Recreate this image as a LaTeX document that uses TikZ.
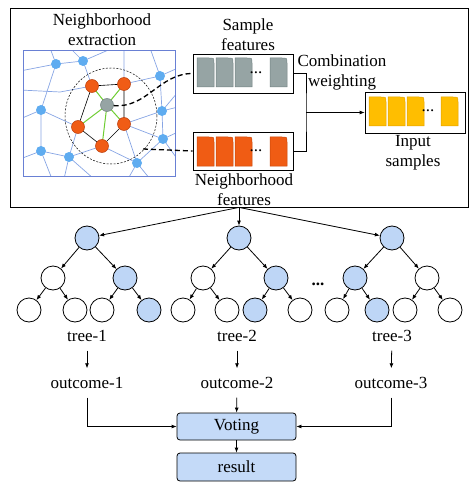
\documentclass[tikz,border=0pt]{standalone}
\usepackage{fontspec}
\setmainfont{Liberation Serif}
\usetikzlibrary{arrows.meta}

\definecolor{netline}{RGB}{135,165,228}
\definecolor{netframe}{RGB}{105,128,212}
\definecolor{dotblue}{RGB}{95,172,240}
\definecolor{orangefill}{RGB}{240,92,22}
\definecolor{orangeline}{RGB}{185,60,10}
\definecolor{graynode}{RGB}{150,164,164}
\definecolor{greenedge}{RGB}{110,205,50}
\definecolor{treeblue}{RGB}{190,214,246}
\definecolor{votefill}{RGB}{196,218,248}
\definecolor{cellgray}{RGB}{150,164,164}
\definecolor{cellgrayline}{RGB}{115,130,130}
\definecolor{cellorange}{RGB}{240,92,20}
\definecolor{cellorangeline}{RGB}{200,70,10}
\definecolor{cellyellow}{RGB}{255,190,0}
\definecolor{cellyellowline}{RGB}{225,160,0}

% one feature cell, top right corner rounded
\newcommand{\featcell}[4]{%
  \filldraw[fill=#3, draw=#4, line width=0.5pt] (#1,#2+29) -- (#1,#2) -- (#1+12,#2)
    .. controls (#1+17,#2) .. (#1+17,#2+5) -- (#1+17,#2+29) -- cycle;}

\begin{document}
\begin{tikzpicture}[x=1pt, y=-1pt, line width=0.8pt,
    >={Latex[length=5pt,width=4pt]},
    font=\fontsize{17}{20}\selectfont,
    tnode/.style={circle, draw, minimum size=24pt, inner sep=0pt},
    tfill/.style={tnode, fill=treeblue},
    lbl/.style={inner sep=3pt, outer sep=6pt},
    fbox/.style={draw, minimum width=100pt, inner sep=0pt},
    vbox/.style={draw, rounded corners=3pt, fill=votefill, minimum width=119pt, minimum height=27pt},
    bdot/.style={circle, fill=dotblue, minimum size=10pt, inner sep=0pt},
    odot/.style={circle, draw=orangeline, line width=0.5pt, fill=orangefill, minimum size=13pt, inner sep=0pt},
    link/.style={dashed, line width=1.3pt, dash pattern=on 5pt off 3pt},
  ]
  \useasboundingbox (0,0) rectangle (474,489);

  % upper frame
  \node[draw, minimum width=458pt, minimum height=199pt, inner sep=0pt] (frame) at (239,107.5) {};

  % neighborhood extraction
  \node[align=center] (ntitle) at (102,30) {Neighborhood\\extraction};
  \coordinate (b1) at (56,64);
  \coordinate (b2) at (83,61);
  \coordinate (b3) at (160,76);
  \coordinate (b4) at (41,110);
  \coordinate (b5) at (162,111);
  \coordinate (b6) at (163,139);
  \coordinate (b7) at (41,151);
  \coordinate (b8) at (69,157);
  \coordinate (b9) at (137,163);
  \coordinate (o1) at (92,86);
  \coordinate (o2) at (124,84);
  \coordinate (o3) at (78,127);
  \coordinate (o4) at (124,124);
  \coordinate (o5) at (102,146);
  \coordinate (g) at (107,105);

  \begin{scope}
    \clip (23,51) rectangle (175,176);
    \draw[netline, line width=0.7pt]
      (20,71) -- (b1) -- (b2) (b1) -- (50,48) (b2) -- (70,48) (b2) -- (113,48)
      (b2) -- (o1) (b1) -- (b4) (b4) -- (20,119) (b4) -- (b7) (b4) -- (o3)
      (20,90) -- (60,92) -- (o1) (b7) -- (20,159) (b7) -- (b8) (b7) -- (52,179)
      (b8) -- (64,179) (b8) -- (o3) (b8) -- (o5) (b8) -- (94,179)
      (b9) -- (o5) (b9) -- (b6) (b9) -- (128,179) (b9) -- (150,179) (b9) -- (o4)
      (b6) -- (178,132) (b6) -- (b5) (b6) -- (o4) (b5) -- (178,107) (b5) -- (b3)
      (b5) -- (o4) (b3) -- (178,68) (b3) -- (150,48) (b3) -- (o2) (o2) -- (124,48)
      (b5) -- (178,92) (b6) -- (178,160);
  \end{scope}
  \draw[netframe, line width=1pt] (23,51) rectangle (175,176);

  \draw[line width=0.6pt] (o1) -- (o2) -- (o4) -- (o5) -- (o3) -- cycle;
  \draw[greenedge, line width=1pt] (g) -- (o1) (g) -- (o2) (g) -- (o3) (g) -- (o4) (g) -- (o5);
  \draw[dashed, line width=0.5pt, dash pattern=on 2pt off 1.5pt] (111,116) ellipse [x radius=46pt, y radius=48pt];
  \coordinate (edge) at (143,149);

  \foreach \b in {b1,b2,b3,b4,b5,b6,b7,b8,b9}
    \node[bdot] (n\b) at (\b) {};
  \foreach \o in {o1,o2,o3,o4,o5}
    \node[odot] (n\o) at (\o) {};
  \node[circle, fill=graynode, draw=cellgrayline, line width=0.5pt, minimum size=13pt, inner sep=0pt] (ng) at (g) {};

  % feature boxes
  \node[fbox, minimum height=39pt] (sbox) at (243,73.5) {};
  \foreach \x in {197,216,235,270}
    \featcell{\x}{58}{cellgray}{cellgrayline};
  \node (sdots) at (256,73) {...};
  \node[align=center] (stext) at (248,35) {Sample\\features};

  \node[fbox, minimum height=38pt] (nbox) at (243,151) {};
  \foreach \x in {197,216,235,270}
    \featcell{\x}{137}{cellorange}{cellorangeline};
  \node (ndots) at (256,151) {...};
  \node[align=center] (ntext) at (244,190) {Neighborhood\\features};

  \node[fbox, minimum height=41pt] (ibox) at (415,112.5) {};
  \foreach \x in {369,388,407,441}
    \featcell{\x}{97}{cellyellow}{cellyellowline};
  \node (idots) at (428,111) {...};
  \node[align=center] (itext) at (413,153) {Input\\samples};

  \node[align=center] (ctext) at (342,72) {Combination\\weighting};

  \draw[link] (ng) to[out=-5,in=180] (sbox.west);
  \draw[link] (edge) -- (nbox.west);

  \coordinate (join) at (306,112.5);
  \draw (sbox.east) -| (join) |- (nbox.east);
  \draw[->] (join) -- (ibox.west);

  % trees
  \node[tfill] (r1) at (87,238) {};
  \node[tnode] (r1a) at (53,278) {};
  \node[tfill] (r1b) at (125,278) {};
  \node[tnode] (r1aa) at (29,310) {};
  \node[tnode] (r1ab) at (75,310) {};
  \node[tnode] (r1ba) at (102,310) {};
  \node[tfill] (r1bb) at (149,310) {};

  \node[tfill] (r2) at (239,238) {};
  \node[tnode] (r2a) at (203,278) {};
  \node[tfill] (r2b) at (276,278) {};
  \node[tnode] (r2aa) at (183,310) {};
  \node[tnode] (r2ab) at (227,310) {};
  \node[tfill] (r2ba) at (255,310) {};
  \node[tnode] (r2bb) at (300,310) {};

  \node[tfill] (r3) at (392,238) {};
  \node[tfill] (r3a) at (355,278) {};
  \node[tnode] (r3b) at (427,278) {};
  \node[tnode] (r3aa) at (337,310) {};
  \node[tfill] (r3ab) at (377,310) {};
  \node[tnode] (r3ba) at (405,310) {};
  \node[tnode] (r3bb) at (450,310) {};

  \node (tdots) at (318,284) {\textbf{...}};

  \foreach \r in {r1,r2,r3} {
    \draw[->] (frame.south) -- (\r);
    \draw[->] (\r) -- (\r a);
    \draw[->] (\r) -- (\r b);
    \draw[->] (\r a) -- (\r aa);
    \draw[->] (\r a) -- (\r ab);
    \draw[->] (\r b) -- (\r ba);
    \draw[->] (\r b) -- (\r bb);
  }

  % outcomes and voting
  \node[lbl] (t1) at (87,336) {tree-1};
  \node[lbl] (t2) at (237,336) {tree-2};
  \node[lbl] (t3) at (392,336) {tree-3};
  \node[lbl] (oc1) at (87,383) {outcome-1};
  \node[lbl] (oc2) at (237,383) {outcome-2};
  \node[lbl] (oc3) at (391,383) {outcome-3};
  \node[vbox] (vote) at (236.5,426.5) {Voting};
  \node[vbox, minimum height=28pt] (res) at (236.5,467) {result};

  \draw[->] (t1) -- (oc1);
  \draw[->] (t2) -- (oc2);
  \draw[->] (t3) -- (oc3);
  \draw[->] (oc1) |- (vote);
  \draw[->] (oc3) |- (vote);
  \draw[->] (oc2) -- (vote);
  \draw[->] (vote) -- (res);
\end{tikzpicture}
\end{document}
